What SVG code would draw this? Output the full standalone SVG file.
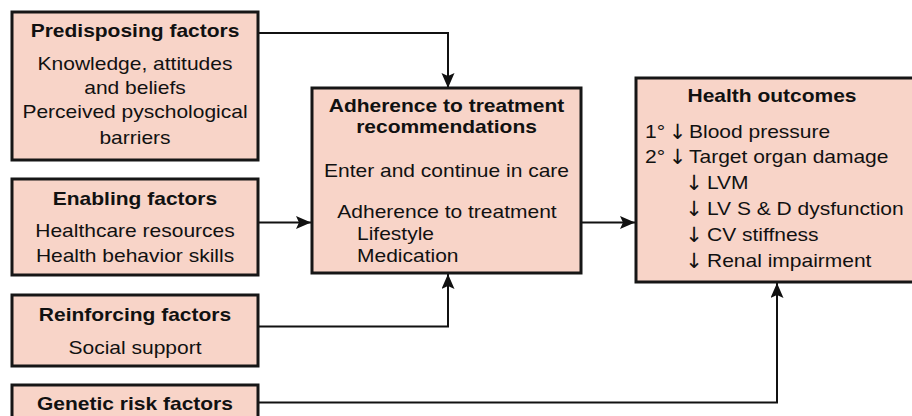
<svg xmlns="http://www.w3.org/2000/svg" width="912" height="416" viewBox="0 0 912 416">
<style>
.box{fill:#f8d4c8;stroke:#161616;stroke-width:3}
.t{font-family:"Liberation Sans","DejaVu Sans",Arial,sans-serif;font-size:17.5px;fill:#111}
.b{font-weight:bold}
.c{text-anchor:middle}
.ar{font-family:"DejaVu Sans",sans-serif;font-size:21px;fill:#111;text-anchor:middle}
.ln{fill:none;stroke:#111;stroke-width:2}
</style>
<defs>
<marker id="ah" markerUnits="userSpaceOnUse" markerWidth="16" markerHeight="14" refX="15" refY="6.5" orient="auto">
<path d="M0,0 L15,6.5 L0,13 L3,6.5 Z" fill="#111"/>
</marker>
</defs>
<rect width="912" height="416" fill="#fff"/>
<g id="connectors">
<path class="ln" d="M258 33 H448 V88" marker-end="url(#ah)"/>
<path class="ln" d="M258 222.5 H311" marker-end="url(#ah)"/>
<path class="ln" d="M258 326.5 H448 V274" marker-end="url(#ah)"/>
<path class="ln" d="M581 222.5 H635" marker-end="url(#ah)"/>
<path class="ln" d="M258 402.5 H777 V283" marker-end="url(#ah)"/>
</g>
<g id="predisposing">
<rect class="box" x="12" y="12" width="246" height="148"/>
<text class="t b c" transform="translate(135 0) scale(1.2 1)" x="0" y="37">Predisposing factors</text>
<text class="t c" transform="translate(135 0) scale(1.2 1)" x="0" y="70">Knowledge, attitudes</text>
<text class="t c" transform="translate(135 0) scale(1.2 1)" x="0" y="94">and beliefs</text>
<text class="t c" transform="translate(135 0) scale(1.2 1)" x="0" y="118.5">Perceived pyschological</text>
<text class="t c" transform="translate(135 0) scale(1.2 1)" x="0" y="144">barriers</text>
</g>
<g id="enabling">
<rect class="box" x="12" y="179" width="246" height="96"/>
<text class="t b c" transform="translate(135 0) scale(1.2 1)" x="0" y="205">Enabling factors</text>
<text class="t c" transform="translate(135 0) scale(1.2 1)" x="0" y="237">Healthcare resources</text>
<text class="t c" transform="translate(135 0) scale(1.2 1)" x="0" y="262">Health behavior skills</text>
</g>
<g id="reinforcing">
<rect class="box" x="12" y="295" width="246" height="71"/>
<text class="t b c" transform="translate(135 0) scale(1.2 1)" x="0" y="321">Reinforcing factors</text>
<text class="t c" transform="translate(135 0) scale(1.2 1)" x="0" y="354">Social support</text>
</g>
<g id="genetic">
<rect class="box" x="12" y="385" width="246" height="50"/>
<text class="t b c" transform="translate(135 0) scale(1.2 1)" x="0" y="410.5">Genetic risk factors</text>
</g>
<g id="adherence">
<rect class="box" x="312" y="88" width="269" height="185"/>
<text class="t b c" transform="translate(446.5 0) scale(1.2 1)" x="0" y="112">Adherence to treatment</text>
<text class="t b c" transform="translate(446.5 0) scale(1.2 1)" x="0" y="133.5">recommendations</text>
<text class="t c" transform="translate(446.5 0) scale(1.2 1)" x="0" y="177">Enter and continue in care</text>
<text class="t c" transform="translate(447 0) scale(1.2 1)" x="0" y="218">Adherence to treatment</text>
<text class="t" transform="translate(357 0) scale(1.2 1)" x="0" y="240.5">Lifestyle</text>
<text class="t" transform="translate(357 0) scale(1.2 1)" x="0" y="262">Medication</text>
</g>
<g id="outcomes">
<rect class="box" x="636" y="78" width="300" height="204"/>
<text class="t b c" transform="translate(772 0) scale(1.2 1)" x="0" y="102.5">Health outcomes</text>
<text class="t" transform="translate(645 0) scale(1.2 1)" x="0" y="138">1°</text>
<text class="ar" x="677.5" y="138.5">↓</text>
<text class="t" transform="translate(689 0) scale(1.2 1)" x="0" y="138">Blood pressure</text>
<text class="t" transform="translate(645 0) scale(1.2 1)" x="0" y="163">2°</text>
<text class="ar" x="677.5" y="163.5">↓</text>
<text class="t" transform="translate(689 0) scale(1.2 1)" x="0" y="163">Target organ damage</text>
<text class="ar" x="694" y="189.5">↓</text>
<text class="t" transform="translate(707 0) scale(1.2 1)" x="0" y="189">LVM</text>
<text class="ar" x="694" y="216">↓</text>
<text class="t" transform="translate(707 0) scale(1.2 1)" x="0" y="215.5">LV S &amp; D dysfunction</text>
<text class="ar" x="694" y="242">↓</text>
<text class="t" transform="translate(707 0) scale(1.2 1)" x="0" y="241.5">CV stiffness</text>
<text class="ar" x="694" y="268">↓</text>
<text class="t" transform="translate(707 0) scale(1.2 1)" x="0" y="267.5">Renal impairment</text>
</g>
</svg>
